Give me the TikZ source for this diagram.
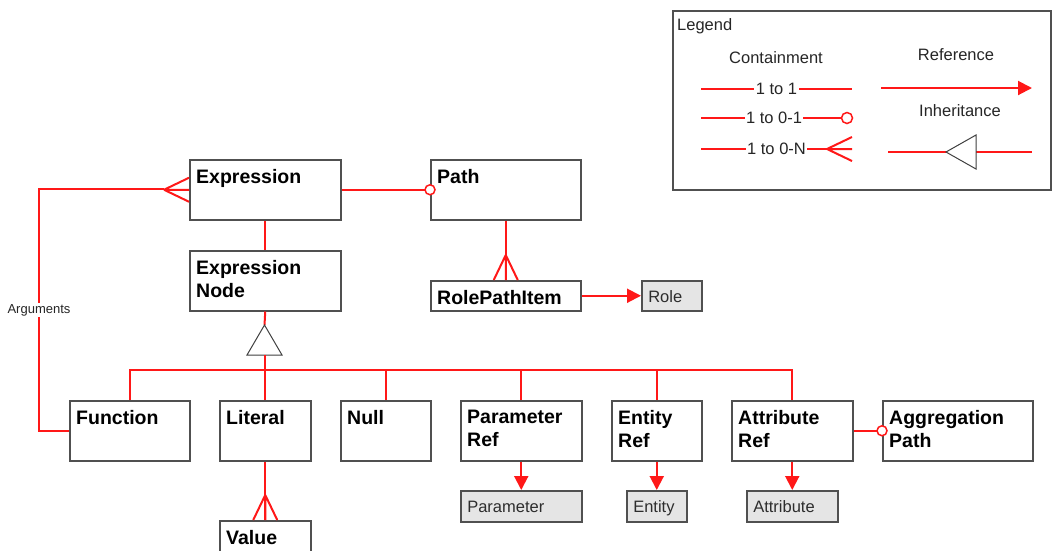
\documentclass[tikz,border=0pt]{standalone}
\usepackage{fontspec}
\setmainfont{Liberation Sans}
\usetikzlibrary{arrows.meta}

\definecolor{relred}{RGB}{255,24,24}
\definecolor{boxline}{RGB}{80,80,80}
\definecolor{reffill}{RGB}{229,229,229}
\definecolor{reftext}{RGB}{45,45,45}

\tikzset{
  rel/.style={draw=relred, line width=2pt},
  refarrow/.style={rel, -{Triangle[length=14pt,width=14pt]}},
  cls/.style={draw=boxline, line width=1.5pt, fill=white, anchor=north west,
    inner sep=0pt, label={[clstext]north west:#1}},
  clstext/.style={anchor=north west, inner sep=0pt, xshift=7pt, yshift=-10pt,
    align=left, font=\fontsize{19.5}{23}\selectfont\bfseries},
  refbox/.style={draw=boxline, line width=1.5pt, fill=reffill, anchor=north west,
    inner xsep=6.5pt, inner ysep=0pt, align=left, text=reftext,
    text height=14.5pt, text depth=1.5pt, font=\fontsize{16.5}{20}\selectfont},
  legtxt/.style={inner sep=0pt, text=black!85, font=\fontsize{16.5}{20}\selectfont},
  linetxt/.style={legtxt, fill=white, inner xsep=1.5pt},
  ocirc/.style={circle, draw=relred, line width=1.5pt, fill=white, inner sep=0pt,
    minimum size=10pt},
  inhtri/.style={draw=black!75, line width=1pt, fill=white},
  crow/.pic={\draw[rel] (-25,0) -- (0,12) (-25,0) -- (0,0) (-25,0) -- (0,-12);}
}

\begin{document}
\begin{tikzpicture}[x=1pt, y=-1pt]
  \useasboundingbox (0,0) rectangle (1052,550);

  % classes
  \node[cls=Expression, minimum width=151pt, minimum height=60pt] (expr) at (189,159) {};
  \node[cls=Path, minimum width=150pt, minimum height=60pt] (path) at (430,159) {};
  \node[cls={Expression\\Node}, minimum width=151pt, minimum height=60pt] (exnode) at (189,250) {};
  \node[cls=RolePathItem, minimum width=150pt, minimum height=30pt] (rpi) at (430,280) {};
  \node[cls=Function, minimum width=120pt, minimum height=60pt] (func) at (69,400) {};
  \node[cls=Literal, minimum width=91pt, minimum height=60pt] (lit) at (219,400) {};
  \node[cls=Null, minimum width=90pt, minimum height=60pt] (null) at (340,400) {};
  \node[cls={Parameter\\Ref}, minimum width=121pt, minimum height=60pt] (param) at (460,400) {};
  \node[cls={Entity\\Ref}, minimum width=90pt, minimum height=60pt] (entity) at (611,400) {};
  \node[cls={Attribute\\Ref}, minimum width=121pt, minimum height=60pt] (attr) at (731,400) {};
  \node[cls={Aggregation\\Path}, minimum width=150pt, minimum height=60pt] (aggr) at (882,400) {};
  \node[cls=Value, minimum width=91pt, minimum height=60pt] (value) at (219,520) {};

  % referenced items
  \node[refbox, text width=47pt, minimum height=30pt] (role) at (641,280) {Role};
  \node[refbox, text width=108pt, minimum height=31pt] (paramref) at (460,490) {Parameter};
  \node[refbox, text width=47pt, minimum height=31pt] (entityref) at (626,490) {Entity};
  \node[refbox, text width=78pt, minimum height=31pt] (attrref) at (746,490) {Attribute};

  % containment
  \draw[rel] (expr.south) -- (exnode.north);
  \draw[rel] (expr.east) -- (path.west) node[pos=1, ocirc] {};
  \draw[rel] (path.south) -- (rpi.north);
  \pic[rotate=-90] at (rpi.north) {crow};
  \draw[rel] (lit.south) -- (value.north);
  \pic[rotate=-90] at (value.north) {crow};
  \draw[rel] (attr.east) -- (aggr.west) node[pos=1, ocirc] {};
  \coordinate (argtop) at (39,189);
  \coordinate (exprfoot) at (164,189);
  \draw[rel] (func.west) -| (argtop)
    node[pos=.75, fill=white, inner sep=1pt, text=black!85,
      font=\fontsize{13}{15}\selectfont] {Arguments}
    -- (exprfoot);
  \pic at (expr.west) {crow};

  % inheritance
  \coordinate (inh) at (264.5,325);
  \coordinate (inhb) at (264.5,355);
  \coordinate (bus) at (264.5,370);
  \draw[rel] (exnode.south) -- (inh);
  \draw[inhtri] (inh) -- (282,355) -- (247,355) -- cycle;
  \draw[rel] (inhb) -- (bus);
  \draw[rel] (func.north) |- (bus) -| (attr.north);
  \foreach \n in {lit,null,param,entity}
    \draw[rel] (\n.north) -- (\n.north |- bus);

  % references
  \draw[refarrow] (rpi.east) -- (role.west);
  \draw[refarrow] (param.south) -- (paramref.north);
  \draw[refarrow] (entity.south) -- (entityref.north);
  \draw[refarrow] (attr.south) -- (attrref.north);

  % legend
  \node[draw=boxline, line width=1.5pt, anchor=north west, inner sep=0pt,
    minimum width=378pt, minimum height=179pt] (legend) at (672,10) {};
  \node[legtxt, anchor=base west] (legtitle) at (677,30) {Legend};
  \node[legtxt] (contain) at (776,58) {Containment};
  \node[legtxt] (reftitle) at (956,55) {Reference};
  \node[legtxt] (inhtitle) at (960,111) {Inheritance};
  \coordinate (one1) at (701,89);
  \coordinate (one2) at (852,89);
  \coordinate (opt1) at (701,118);
  \coordinate (opt2) at (847,118);
  \coordinate (many1) at (701,149);
  \coordinate (many2) at (852,149);
  \coordinate (ref1) at (881,88);
  \coordinate (ref2) at (1032,88);
  \coordinate (inh1) at (888,152);
  \coordinate (inh2) at (1032,152);
  \coordinate (inhl) at (946,152);
  \draw[rel] (one1) -- (one2) node[midway, linetxt] {1 to 1};
  \draw[rel] (opt1) -- (opt2) node[midway, linetxt] {1 to 0-1}
    node[pos=1, ocirc, minimum size=11pt] {};
  \draw[rel] (many1) -- (many2) node[midway, linetxt] {1 to 0-N};
  \pic at (many2) {crow};
  \draw[refarrow] (ref1) -- (ref2);
  \draw[rel] (inh1) -- (inh2);
  \draw[inhtri] (inhl) -- (976,135) -- (976,169) -- cycle;
\end{tikzpicture}
\end{document}
